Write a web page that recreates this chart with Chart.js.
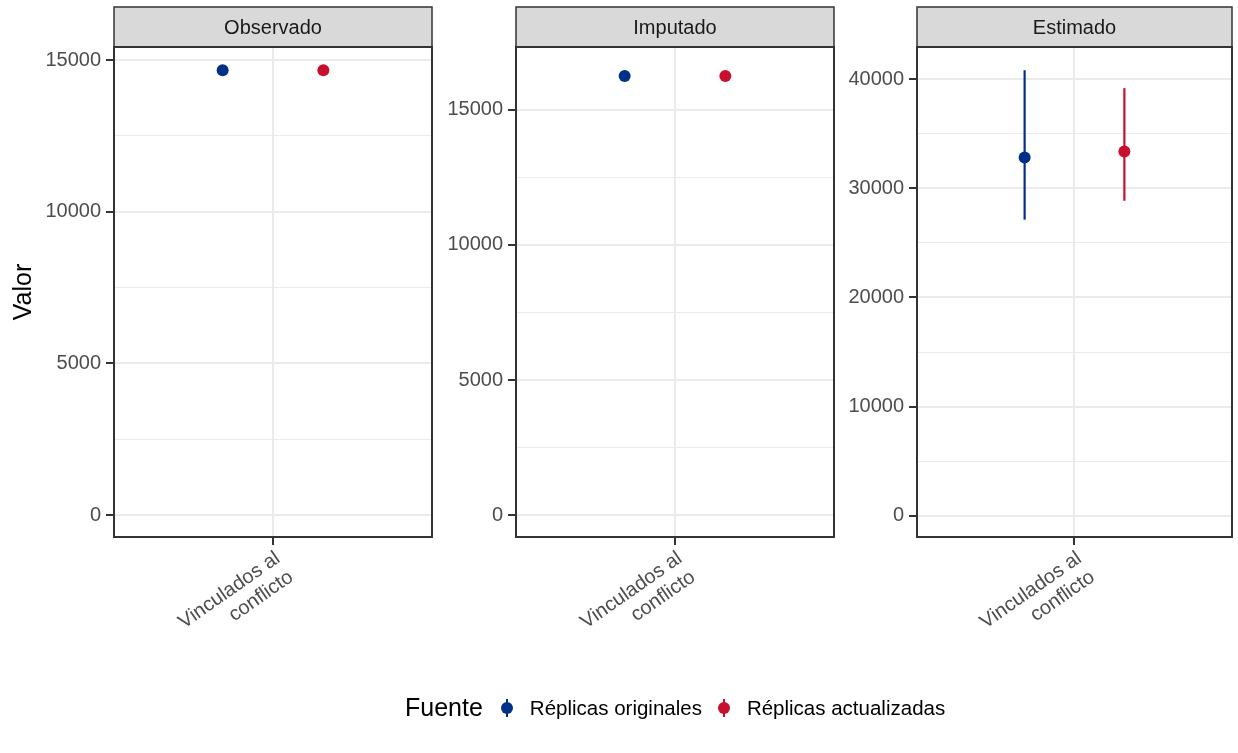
<!DOCTYPE html>
<html>
<head>
<meta charset="utf-8">
<script src="https://cdn.jsdelivr.net/npm/chart.js@4.4.1/dist/chart.umd.min.js"></script>
<style>
  body { margin: 0; background: #fff; width: 1238px; height: 753px; position: relative; overflow: hidden;
         font-family: "Liberation Sans", Arial, sans-serif; }
  canvas { position: absolute; top: 0; }
  #legend { position: absolute; left: 405px; top: 693px; display: flex; align-items: center; white-space: nowrap; }
  #legend .title { font-size: 25px; color: #000; margin-right: 16px; }
  #legend .key { position: relative; display: inline-block; width: 16px; height: 22px; margin-right: 15px; }
  #legend .key .bar { position: absolute; left: 7px; top: 2px; width: 2px; height: 18px; }
  #legend .key .dot { position: absolute; left: 2px; top: 5.5px; width: 12px; height: 12px; border-radius: 50%; }
  #legend .lab { font-size: 20.5px; color: #000; margin-right: 14px; }
</style>
</head>
<body>
<canvas id="c0" width="440" height="753" style="left:0px"></canvas>
<canvas id="c1" width="400" height="753" style="left:440px"></canvas>
<canvas id="c2" width="398" height="753" style="left:840px"></canvas>
<div id="legend"></div>
<script>
// data
var panels = ['Observado', 'Imputado', 'Estimado'];
var categories = ['Vinculados al conflicto'];
var categoryLines = [['Vinculados al', 'conflicto']];
var seriesNames = ['Réplicas originales', 'Réplicas actualizadas'];
var seriesColors = ['#003087', '#C8102E'];

var originales     = [14670, 16240, 32830];
var originalesLo   = [null, null, 27130];
var originalesHi   = [null, null, 40820];
var actualizadas   = [14670, 16240, 33380];
var actualizadasLo = [null, null, 28860];
var actualizadasHi = [null, null, 39180];

var yTicks = [
  [0, 5000, 10000, 15000],
  [0, 5000, 10000, 15000],
  [0, 10000, 20000, 30000, 40000]
];
var yMin = [-725, -800, -1950];
var yMax = [15435, 17310, 42950];

var dodge = 0.19;

Chart.defaults.font.family = '"Liberation Sans", Arial, sans-serif';
Chart.defaults.animation = false;

var layouts = [
  { id: 'c0', left: 114, right: 8 },
  { id: 'c1', left: 76, right: 6 },
  { id: 'c2', left: 77, right: 2 }
];

function withMinor(ticks, lo, hi) {
  var step = ticks[1] - ticks[0];
  var out = [];
  for (var v = ticks[0] - step / 2; v <= hi; v += step / 2) {
    if (v >= lo) out.push(v);
  }
  return out;
}

var panelDecor = {
  id: 'panelDecor',
  beforeDraw: function(chart) {
    // nudge the rotated category labels so they end at the tick like ggplot's hjust = 1
    var items = chart.scales.x.getLabelItems();
    if (!items._shifted) {
      items.forEach(function(it) { it.options.translation[0] += 5; });
      items._shifted = true;
    }
  },
  afterDraw: function(chart) {
    var ctx = chart.ctx, a = chart.chartArea;
    ctx.save();
    // strip
    ctx.fillStyle = '#D9D9D9';
    ctx.fillRect(a.left, 7, a.right - a.left, a.top - 7);
    ctx.strokeStyle = '#333333';
    ctx.lineWidth = 1.5;
    ctx.strokeRect(a.left, 7, a.right - a.left, a.top - 7);
    ctx.fillStyle = '#1A1A1A';
    ctx.font = '20px "Liberation Sans", Arial, sans-serif';
    ctx.textAlign = 'center';
    ctx.textBaseline = 'middle';
    ctx.fillText(chart.options.plugins.panelDecor.label, (a.left + a.right) / 2, (7 + a.top) / 2 + 1);
    // panel border
    ctx.lineWidth = 2;
    ctx.strokeRect(a.left, a.top, a.right - a.left, a.bottom - a.top);
    ctx.restore();
  }
};

var series = [
  { name: seriesNames[0], color: seriesColors[0], val: originales, lo: originalesLo, hi: originalesHi, off: -dodge },
  { name: seriesNames[1], color: seriesColors[1], val: actualizadas, lo: actualizadasLo, hi: actualizadasHi, off: dodge }
];

panels.forEach(function(panel, p) {
  var lay = layouts[p];
  var datasets = [];
  // points first so they are drawn on top
  series.forEach(function(s) {
    datasets.push({
      label: s.name,
      data: categories.map(function(c, k) { return { x: k + 1 + s.off, y: s.val[p] }; }),
      backgroundColor: s.color,
      borderWidth: 0,
      pointRadius: 6
    });
  });
  series.forEach(function(s) {
    if (s.lo[p] === null) return;
    datasets.push({
      label: s.name + ' IC',
      data: [{ x: 1 + s.off, y: s.lo[p] }, { x: 1 + s.off, y: s.hi[p] }],
      showLine: true,
      borderColor: s.color,
      borderWidth: 2.2,
      pointRadius: 0
    });
  });

  var ticksAll = withMinor(yTicks[p], yMin[p], yMax[p]);

  new Chart(document.getElementById(lay.id), {
    type: 'scatter',
    data: { datasets: datasets },
    plugins: [panelDecor],
    options: {
      responsive: false,
      layout: { padding: { top: 47, right: lay.right, left: 0, bottom: 0 } },
      plugins: {
        legend: { display: false },
        tooltip: { enabled: false },
        panelDecor: { label: panel }
      },
      scales: {
        x: {
          type: 'linear',
          min: 0.4,
          max: categories.length + 0.6,
          afterBuildTicks: function(s) { s.ticks = categories.map(function(c, k) { return { value: k + 1 }; }); },
          afterFit: function(s) { s.height = 753 - 537; s.paddingLeft = 0; s.paddingRight = 0; },
          ticks: {
            autoSkip: false,
            minRotation: 35,
            maxRotation: 35,
            padding: 2,
            color: '#4D4D4D',
            font: { size: 20, lineHeight: 1.15 },
            callback: function(v) { return categoryLines[Math.round(v) - 1]; }
          },
          grid: { color: '#EBEBEB', lineWidth: 2, tickLength: 8, tickColor: '#333333', tickWidth: 2 },
          border: { display: false }
        },
        y: {
          min: yMin[p],
          max: yMax[p],
          afterBuildTicks: function(s) { s.ticks = ticksAll.map(function(v) { return { value: v }; }); },
          afterFit: function(s) { s.width = lay.left; },
          ticks: {
            padding: 5,
            color: '#4D4D4D',
            font: { size: 20 },
            callback: function(v) { return yTicks[p].indexOf(v) >= 0 ? String(v) : ''; }
          },
          grid: {
            color: '#EBEBEB',
            lineWidth: function(c) { return yTicks[p].indexOf(c.tick.value) >= 0 ? 2 : 1; },
            tickLength: 8,
            tickColor: function(c) { return yTicks[p].indexOf(c.tick.value) >= 0 ? '#333333' : 'rgba(0,0,0,0)'; },
            tickWidth: 2
          },
          border: { display: false },
          title: {
            display: p === 0,
            text: 'Valor',
            color: '#000000',
            font: { size: 25 },
            padding: { top: 9, bottom: 0 }
          }
        }
      }
    }
  });
});

// legend
var legend = document.getElementById('legend');
var html = '<span class="title">Fuente</span>';
series.forEach(function(s) {
  html += '<span class="key"><span class="bar" style="background:' + s.color + '"></span>' +
          '<span class="dot" style="background:' + s.color + '"></span></span>' +
          '<span class="lab">' + s.name + '</span>';
});
legend.innerHTML = html;
</script>
</body>
</html>
